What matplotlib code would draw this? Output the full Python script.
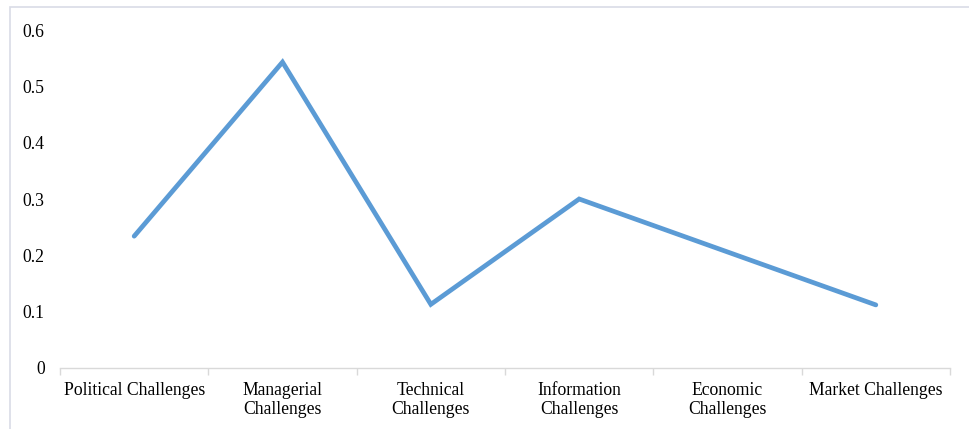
import matplotlib.pyplot as plt
from matplotlib.patches import Rectangle

categories = ['Political Challenges', 'Managerial\nChallenges', 'Technical\nChallenges',
              'Information\nChallenges', 'Economic\nChallenges', 'Market Challenges']
values = [0.234, 0.543, 0.113, 0.300, 0.206, 0.112]
yticks = [0, 0.1, 0.2, 0.3, 0.4, 0.5, 0.6]
ytick_labels = ['0', '0.1', '0.2', '0.3', '0.4', '0.5', '0.6']

plt.rcParams['font.family'] = ['Liberation Serif', 'DejaVu Serif']

fig = plt.figure(figsize=(9.70, 4.29), dpi=100)
ax = fig.add_axes([60 / 970, 1 - 368 / 429, 890 / 970, 338 / 429])

# light frame around the chart area (cut off at right and bottom like the original)
fig.patches.append(Rectangle((10 / 970, -0.1), 1.0, 1 - 7 / 429 + 0.1,
                             transform=fig.transFigure, fill=False,
                             edgecolor='#D9DCE6', linewidth=1.2))

x = list(range(len(categories)))
ax.plot(x, values, color='#5B9BD5', linewidth=3.4, solid_capstyle='round',
        solid_joinstyle='miter')

ax.set_xlim(-0.5, len(categories) - 0.5)
ax.set_ylim(0, 0.6)
ax.set_yticks(yticks)
ax.set_yticklabels(ytick_labels, fontsize=12.7)
ax.tick_params(axis='y', length=0, pad=11)

# tick marks between categories, labels at centres
ax.set_xticks([i - 0.5 for i in range(len(categories) + 1)])
ax.set_xticklabels([])
ax.tick_params(axis='x', which='major', length=5, color='#D9D9D9', width=1)
ax.set_xticks(x, minor=True)
ax.set_xticklabels(categories, minor=True, fontsize=12.7, linespacing=1.15)
ax.tick_params(axis='x', which='minor', length=0, pad=10)

for s in ['top', 'right', 'left']:
    ax.spines[s].set_visible(False)
ax.spines['bottom'].set_color('#D9D9D9')
ax.spines['bottom'].set_linewidth(1)

fig.savefig('out.png', dpi=100)
